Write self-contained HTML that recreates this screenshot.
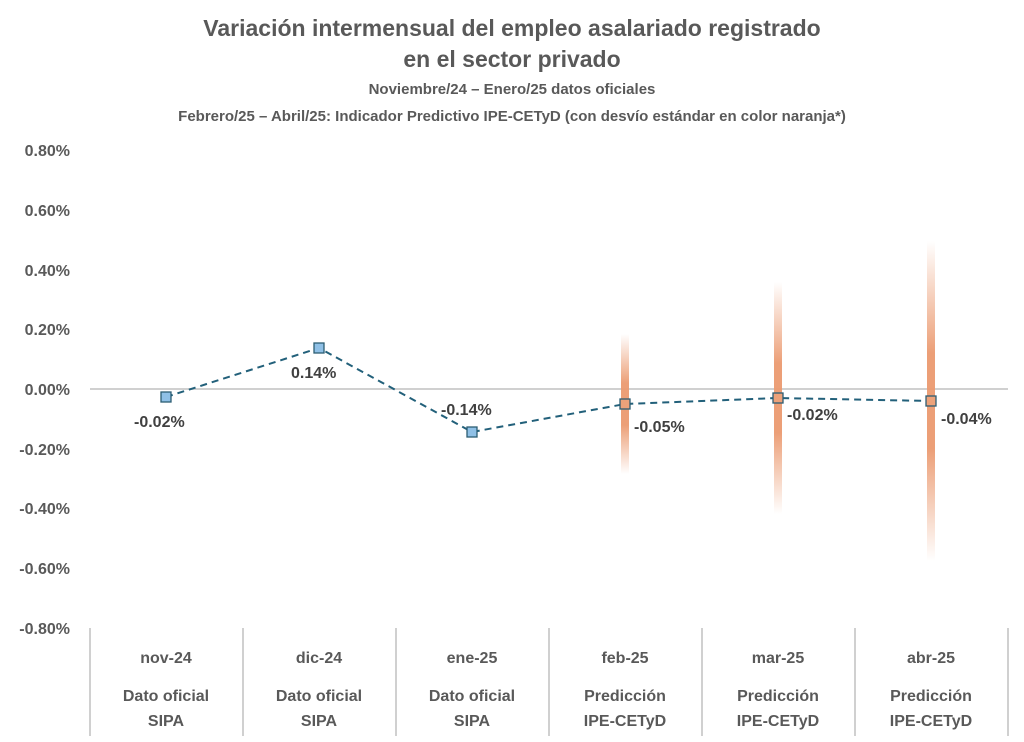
<!DOCTYPE html>
<html><head><meta charset="utf-8"><style>body{margin:0;background:#fff}svg{display:block}</style></head><body>
<svg width="1024" height="742" viewBox="0 0 1024 742" font-family="Liberation Sans, sans-serif">
<defs><linearGradient id="g" x1="0" y1="0" x2="0" y2="1">
<stop offset="0" stop-color="#eb9a70" stop-opacity="0"/><stop offset="0.35" stop-color="#eb9a70" stop-opacity="0.95"/><stop offset="0.65" stop-color="#eb9a70" stop-opacity="0.95"/><stop offset="1" stop-color="#eb9a70" stop-opacity="0"/></linearGradient></defs>
<g fill="#595959" font-weight="bold" text-anchor="middle">
<text x="512" y="36" font-size="23">Variación intermensual del empleo asalariado registrado</text>
<text x="512" y="67" font-size="23">en el sector privado</text>
<text x="512" y="94" font-size="15">Noviembre/24 – Enero/25 datos oficiales</text>
<text x="512" y="121" font-size="15">Febrero/25 – Abril/25: Indicador Predictivo IPE-CETyD (con desvío estándar en color naranja*)</text>
</g>
<g fill="#595959" font-weight="bold" font-size="16" text-anchor="end">
<text x="70" y="156">0.80%</text><text x="70" y="216">0.60%</text><text x="70" y="276">0.40%</text><text x="70" y="335">0.20%</text><text x="70" y="395">0.00%</text><text x="70" y="455">-0.20%</text><text x="70" y="514">-0.40%</text><text x="70" y="574">-0.60%</text><text x="70" y="634">-0.80%</text>
</g>
<line x1="90" y1="389" x2="1008" y2="389" stroke="#d0d0d0" stroke-width="2"/>
<g stroke="#d0d0d0" stroke-width="2">
<line x1="90" y1="628" x2="90" y2="736"/><line x1="243" y1="628" x2="243" y2="736"/><line x1="396" y1="628" x2="396" y2="736"/><line x1="549" y1="628" x2="549" y2="736"/><line x1="702" y1="628" x2="702" y2="736"/><line x1="855" y1="628" x2="855" y2="736"/><line x1="1008" y1="628" x2="1008" y2="736"/>
</g>
<rect x="621" y="334" width="8" height="140" fill="url(#g)"/>
<rect x="774" y="282" width="8" height="232" fill="url(#g)"/>
<rect x="927" y="241" width="8" height="320" fill="url(#g)"/>
<polyline points="166,397 319,348 472,432 625,404 778,398 931,401" fill="none" stroke="#22607a" stroke-width="2" stroke-dasharray="7,5"/>
<g stroke="#2c5d73" stroke-width="1.3">
<rect x="161" y="392" width="10" height="10" fill="#8fc0e6"/>
<rect x="314" y="343" width="10" height="10" fill="#8fc0e6"/>
<rect x="467" y="427" width="10" height="10" fill="#8fc0e6"/>
<rect x="620" y="399" width="10" height="10" fill="#eda27a"/>
<rect x="773" y="393" width="10" height="10" fill="#eda27a"/>
<rect x="926" y="396" width="10" height="10" fill="#eda27a"/>
</g>
<g fill="#404040" font-weight="bold" font-size="16">
<text x="134" y="427">-0.02%</text><text x="291" y="378">0.14%</text><text x="441" y="415">-0.14%</text><text x="634" y="432">-0.05%</text><text x="787" y="420">-0.02%</text><text x="941" y="424">-0.04%</text>
</g>
<g fill="#595959" font-weight="bold" font-size="16" text-anchor="middle">
<text x="166" y="663">nov-24</text><text x="166" y="701">Dato oficial</text><text x="166" y="726">SIPA</text>
<text x="319" y="663">dic-24</text><text x="319" y="701">Dato oficial</text><text x="319" y="726">SIPA</text>
<text x="472" y="663">ene-25</text><text x="472" y="701">Dato oficial</text><text x="472" y="726">SIPA</text>
<text x="625" y="663">feb-25</text><text x="625" y="701">Predicción</text><text x="625" y="726">IPE-CETyD</text>
<text x="778" y="663">mar-25</text><text x="778" y="701">Predicción</text><text x="778" y="726">IPE-CETyD</text>
<text x="931" y="663">abr-25</text><text x="931" y="701">Predicción</text><text x="931" y="726">IPE-CETyD</text>
</g>
</svg>
</body></html>
